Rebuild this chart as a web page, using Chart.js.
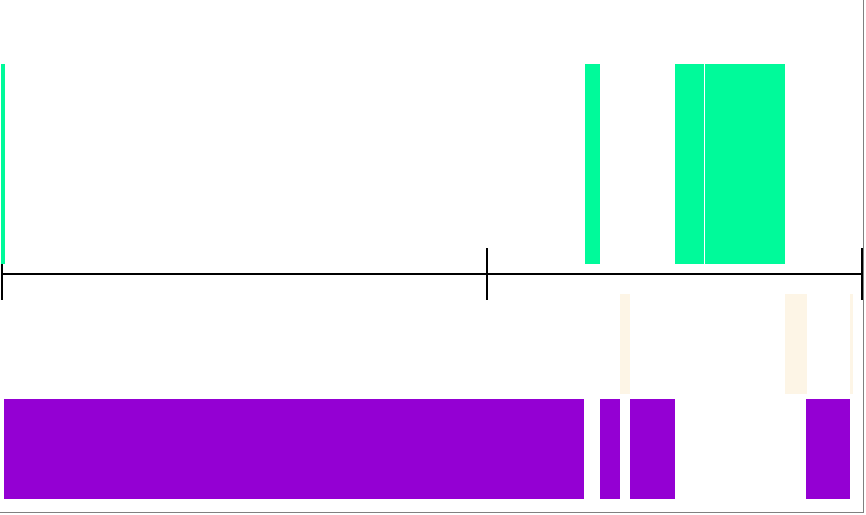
<!DOCTYPE html>
<html>
<head>
<meta charset="utf-8">
<script src="https://cdn.jsdelivr.net/npm/chart.js@4"></script>
<style>
html,body{margin:0;padding:0;background:#fff;overflow:hidden}
#wrap{position:relative;width:866px;height:515px}
#frame{position:absolute;left:0;top:0;width:863px;height:512px;border-right:1px solid #808080;border-bottom:1px solid #808080;pointer-events:none;box-sizing:content-box}
</style>
</head>
<body>
<div id="wrap"><canvas id="c"></canvas><div id="frame"></div></div>
<script>
// Timeline range and tick values (arbitrary time units)
const xMin = 0;
const xMax = 860;
const xTicks = [0, 485, 860];

// State intervals [start, end] for each row
const greenSpans  = [[-1, 3], [583, 598], [673, 702], [703, 783]];
const beigeSpans  = [[618, 628], [783, 805], [848, 851]];
const purpleSpans = [[2, 582], [598, 618], [628, 673], [804, 848]];

// Row lanes on the (hidden) vertical scale
const rowNames = ['green', 'beige', 'purple'];
const rowLanes = [20, 56, 77];
const axisLane = 42;
const laneMax = 87;

const colors = ['#00FA9A', '#FDF5E6', '#9400D3'];
const thickness = [200, 100, 100];
const spans = [greenSpans, beigeSpans, purpleSpans];

const datasets = spans.map((list, i) => ({
  label: rowNames[i],
  data: list.map(s => ({ x: s, y: rowLanes[i] })),
  backgroundColor: colors[i],
  borderWidth: 0,
  barThickness: thickness[i],
  inflateAmount: 0,
  grouped: false,
  clip: false
}));

const tickUp = {
  id: 'tickUp',
  beforeDatasetsDraw(chart) {
    const xs = chart.scales.x, ys = chart.scales.y;
    const yAxis = Math.round(ys.getPixelForValue(axisLane) - 1) + 1;
    const c = chart.ctx;
    c.save();
    c.strokeStyle = '#000';
    c.lineWidth = 2;
    xs.ticks.forEach(t => {
      const px = Math.round(xs.getPixelForValue(t.value) - 1) + 1;
      c.beginPath();
      c.moveTo(px, yAxis - 26);
      c.lineTo(px, yAxis);
      c.stroke();
    });
    c.restore();
  }
};

new Chart(document.getElementById('c'), {
  type: 'bar',
  data: { datasets },
  options: {
    indexAxis: 'y',
    responsive: true,
    maintainAspectRatio: false,
    animation: false,
    layout: { padding: { left: 2, right: 4, top: 64, bottom: 16 } },
    plugins: { legend: { display: false }, tooltip: { enabled: false } },
    scales: {
      x: {
        type: 'linear',
        min: xMin,
        max: xMax,
        offset: false,
        position: { y: axisLane },
        afterBuildTicks: s => { s.ticks = xTicks.map(v => ({ value: v })); },
        ticks: { display: false },
        grid: { display: true, offset: false, drawOnChartArea: false, drawTicks: true, tickLength: 25, tickWidth: 2, tickColor: '#000', lineWidth: 2, color: '#000' },
        border: { display: true, color: '#000', width: 2 }
      },
      y: { type: 'linear', min: 0, max: laneMax, reverse: true, offset: false, display: false, grid: { offset: false } }
    }
  },
  plugins: [tickUp]
});
</script>
</body>
</html>
